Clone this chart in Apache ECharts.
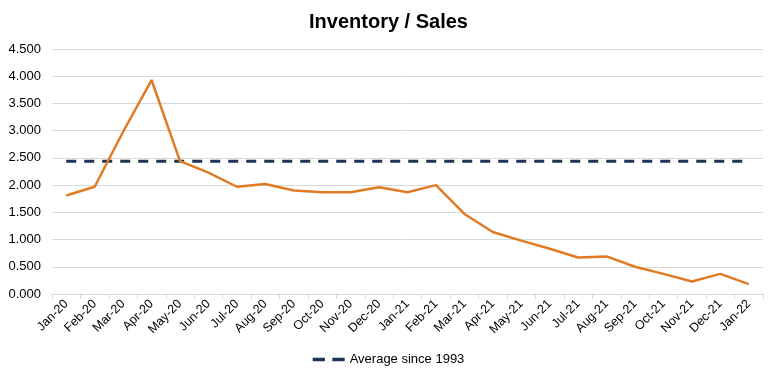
<!DOCTYPE html>
<html><head><meta charset="utf-8">
<script src="https://cdn.jsdelivr.net/npm/echarts@6/dist/echarts.min.js"></script>
<style>html,body{margin:0;padding:0;background:#fff}#c{width:777px;height:369px}</style>
</head><body><div id="c"></div>
<script>
const categories = ["Jan-20","Feb-20","Mar-20","Apr-20","May-20","Jun-20","Jul-20","Aug-20","Sep-20","Oct-20","Nov-20","Dec-20","Jan-21","Feb-21","Mar-21","Apr-21","May-21","Jun-21","Jul-21","Aug-21","Sep-21","Oct-21","Nov-21","Dec-21","Jan-22"];
const inventorySales = [1.81,1.97,2.98,3.93,2.44,2.23,1.97,2.02,1.90,1.87,1.87,1.96,1.87,2.00,1.47,1.14,0.98,0.83,0.67,0.69,0.50,0.37,0.23,0.37,0.18];
const averageSince1993 = [2.44,2.44,2.44,2.44,2.44,2.44,2.44,2.44,2.44,2.44,2.44,2.44,2.44,2.44,2.44,2.44,2.44,2.44,2.44,2.44,2.44,2.44,2.44,2.44,2.44];
const yTicks = {min:0, max:4.5, interval:0.5};

const FONT = 'Liberation Sans, Arial, sans-serif';
const chart = echarts.init(document.getElementById('c'), null, {renderer:'canvas'});
chart.setOption({
  animation:false,
  backgroundColor:'#fff',
  title:{text:'Inventory / Sales', left:'center', top:7,
    textStyle:{fontFamily:FONT, fontSize:20, fontWeight:'bold', color:'#000'}},
  legend:{top:348, left:'center',
    data:[{name:'Average since 1993', icon:'path://M0,0H10V3H0Z M16,0H26V3H16Z'}],
    itemWidth:32, itemHeight:4, itemGap:6,
    textStyle:{fontFamily:FONT, fontSize:13, color:'#000'}},
  grid:{left:52, right:14, top:49, bottom:75},
  xAxis:{type:'category', data:categories, boundaryGap:true,
    axisLine:{lineStyle:{color:'#d9d9d9'}},
    axisTick:{show:true, alignWithLabel:false, length:5, lineStyle:{color:'#d9d9d9'}},
    axisLabel:{rotate:45, interval:0, color:'#000', fontSize:12.5, fontFamily:FONT, margin:8}},
  yAxis:{type:'value', min:yTicks.min, max:yTicks.max, interval:yTicks.interval,
    axisLine:{show:false}, axisTick:{show:false},
    splitLine:{lineStyle:{color:'#d9d9d9', width:1}},
    axisLabel:{formatter:v=>v.toFixed(3), color:'#000', fontSize:13, fontFamily:FONT, margin:11}},
  series:[
    {name:'Average since 1993', type:'line', data:averageSince1993, symbol:'none',
      lineStyle:{color:'#1f3556', width:3, type:[10,8]}, itemStyle:{color:'#1f3556'}, z:2},
    {name:'Inventory / Sales', type:'line', data:inventorySales, symbol:'none',
      lineStyle:{color:'#e07b24', width:2.5}, itemStyle:{color:'#e07b24'}, z:3}
  ]
});
</script></body></html>
